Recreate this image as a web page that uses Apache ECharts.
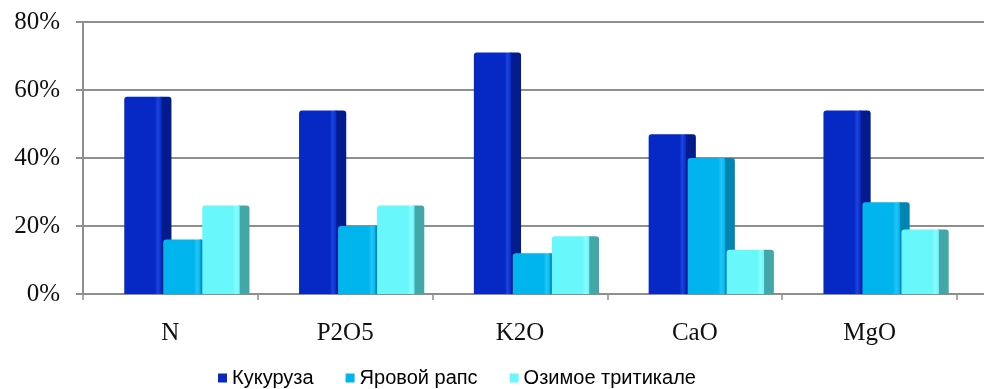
<!DOCTYPE html>
<html>
<head>
<meta charset="utf-8">
<script src="https://cdn.jsdelivr.net/npm/echarts@6/dist/echarts.min.js"></script>
<style>
  html, body { margin: 0; padding: 0; background: #ffffff; }
  #chart { width: 984px; height: 389px; }
</style>
</head>
<body>
<div id="chart"></div>
<script>
// Nutrient categories and crop shares (%)
const categories = ['N', 'P2O5', 'K2O', 'CaO', 'MgO'];
const seriesNames = ['Кукуруза', 'Яровой рапс', 'Озимое тритикале'];
const kukuruza = [58, 54, 71, 47, 54];
const yarovoyRaps = [16, 20, 12, 40, 27];
const ozimoeTritikale = [26, 26, 17, 13, 19];
const yTicks = [0, 20, 40, 60, 80];

const seriesValues = [kukuruza, yarovoyRaps, ozimoeTritikale];

// front / highlight / side colours for each crop
const palette = [
  { front: '#0628c4', light: '#1c44e0', side: '#031b8c' },
  { front: '#00b5ee', light: '#22c6f6', side: '#0385b4' },
  { front: '#68f7fa', light: '#8cfbfd', side: '#43a7a7' }
];

const chart = echarts.init(document.getElementById('chart'), null, { renderer: 'canvas' });

function makeRender(s) {
  const c = palette[s];
  return function (params, api) {
    const cat = api.value(0);
    const val = api.value(1);
    const top = api.coord([cat, val]);
    const base = api.coord([cat, 0]);
    const band = api.size([1, 0])[0];
    const frontW = band * 0.214;
    const sideW = band * 0.056;
    const x0 = top[0] + band * (-0.264 + s * 0.2232);
    const h = base[1] - top[1];
    const r = 3;
    return {
      type: 'group',
      children: [
        {
          type: 'rect',
          shape: { x: x0 + frontW - 1, y: top[1], width: sideW + 1, height: h, r: [0, r, 0, 0] },
          style: { fill: c.side }
        },
        {
          type: 'rect',
          shape: { x: x0, y: top[1], width: frontW, height: h, r: [r, 0, 0, 0] },
          style: {
            fill: new echarts.graphic.LinearGradient(0, 0, 1, 0, [
              { offset: 0, color: c.front },
              { offset: 0.82, color: c.front },
              { offset: 0.9, color: c.light },
              { offset: 1, color: c.front }
            ])
          }
        }
      ]
    };
  };
}

const axisGray = '#8e8e8e';

const option = {
  backgroundColor: '#ffffff',
  animation: false,
  legend: {
    top: 368,
    left: 218,
    padding: 0,
    itemWidth: 9,
    itemHeight: 9,
    itemGap: 32,
    icon: 'rect',
    textStyle: { fontFamily: 'Liberation Sans', fontSize: 20, color: '#000', lineHeight: 20 },
    data: seriesNames.map((n, i) => ({ name: n, itemStyle: { color: palette[i].front } }))
  },
  grid: [
    { left: 83, right: 0, top: 22, bottom: 95 },
    { left: 83, right: 27, top: 22, bottom: 95 }
  ],
  xAxis: [
    {
      gridIndex: 0, type: 'value', min: 0, max: 1,
      axisLine: { show: true, lineStyle: { color: axisGray, width: 2 } },
      axisTick: { show: false }, axisLabel: { show: false }, splitLine: { show: false }
    },
    {
      gridIndex: 1, type: 'category', data: categories, boundaryGap: true,
      axisLine: { show: false },
      axisTick: { show: true, length: 6, lineStyle: { color: axisGray, width: 1.5 } },
      axisLabel: { fontFamily: 'Liberation Serif', fontSize: 25, color: '#111', margin: 27 }
    }
  ],
  yAxis: [
    {
      gridIndex: 0, type: 'value', min: 0, max: 80, interval: 20,
      axisLine: { show: true, lineStyle: { color: axisGray, width: 2 } },
      axisTick: { show: true, length: 7, lineStyle: { color: axisGray, width: 2 } },
      splitLine: { show: true, lineStyle: { color: axisGray, width: 2 } },
      axisLabel: {
        fontFamily: 'Liberation Serif', fontSize: 25, color: '#111', margin: 23,
        padding: [3, 0, 0, 0],
        formatter: v => (yTicks.indexOf(v) >= 0 ? v + '%' : '')
      }
    },
    {
      gridIndex: 1, type: 'value', min: 0, max: 80, interval: 20, show: false
    }
  ],
  series: seriesValues.map((vals, s) => ({
    name: seriesNames[s],
    type: 'custom',
    xAxisIndex: 1,
    yAxisIndex: 1,
    itemStyle: { color: palette[s].front },
    encode: { x: 0, y: 1 },
    data: vals.map((v, i) => [i, v]),
    renderItem: makeRender(s),
    z: 3
  }))
};

chart.setOption(option);
</script>
</body>
</html>
